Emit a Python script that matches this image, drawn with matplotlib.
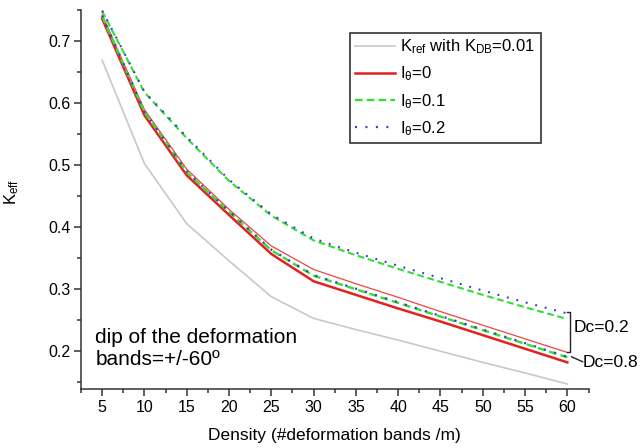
import matplotlib
matplotlib.use("Agg")
import matplotlib.pyplot as plt
from matplotlib.ticker import MultipleLocator

plt.rcParams['font.family'] = ['Liberation Sans', 'DejaVu Sans']
plt.rcParams['mathtext.default'] = 'regular'

density = [5, 10, 15, 20, 25, 30, 35, 40, 45, 50, 55, 60]
k_ref = [0.669, 0.502, 0.405, 0.345, 0.287, 0.252, 0.234, 0.217, 0.199, 0.181, 0.164, 0.146]
# Dc = 0.8 group
red_dc08 = [0.736, 0.580, 0.483, 0.419, 0.356, 0.312, 0.290, 0.268, 0.247, 0.225, 0.203, 0.181]
green_dc08 = [0.740, 0.585, 0.488, 0.424, 0.362, 0.321, 0.299, 0.277, 0.255, 0.233, 0.211, 0.189]
blue_dc08 = [0.741, 0.586, 0.489, 0.425, 0.363, 0.322, 0.300, 0.278, 0.256, 0.234, 0.212, 0.190]
# Dc = 0.2 group
red_dc02 = [0.742, 0.589, 0.493, 0.428, 0.369, 0.331, 0.308, 0.286, 0.263, 0.241, 0.219, 0.197]
green_dc02 = [0.748, 0.617, 0.543, 0.474, 0.418, 0.378, 0.354, 0.332, 0.311, 0.290, 0.270, 0.251]
blue_dc02 = [0.749, 0.618, 0.545, 0.476, 0.420, 0.381, 0.358, 0.337, 0.317, 0.297, 0.278, 0.260]

xticks = [5, 10, 15, 20, 25, 30, 35, 40, 45, 50, 55, 60]
yticks = [0.2, 0.3, 0.4, 0.5, 0.6, 0.7]

fig = plt.figure(figsize=(6.4, 4.48), dpi=100)
ax = fig.add_axes([81/640, 1-389/448, (588.5-81)/640, (389-10)/448])

gray = '#c8c8c8'
red = '#e3211f'
green = '#33dd33'
blue = '#3a3ad0'

ax.plot(density, k_ref, color=gray, lw=1.2, label=r'K$_{ref}$ with K$_{DB}$=0.01')
ax.plot(density, red_dc02, color='#ee4444', lw=0.9)
ax.plot(density, red_dc08, color=red, lw=1.8, label=r'I$_\theta$=0')
ax.plot(density, green_dc02, color=green, lw=1.5, dashes=(3.2, 1.8))
ax.plot(density, green_dc08, color=green, lw=1.7, dashes=(3.2, 1.8), label=r'I$_\theta$=0.1')
ax.plot(density, blue_dc02, color=blue, lw=1.5, dashes=(0.9, 3.8))
ax.plot(density, blue_dc08, color=blue, lw=1.6, dashes=(0.9, 3.8), label=r'I$_\theta$=0.2')

ax.set_xlim(2.5, 62.5)
ax.set_ylim(0.138, 0.75)
ax.set_xticks(xticks)
ax.set_yticks(yticks)
ax.xaxis.set_minor_locator(MultipleLocator(2.5))
ax.yaxis.set_minor_locator(MultipleLocator(0.05))
ax.set_yticklabels([f'{v:.1f}' for v in yticks])

for s in ['top', 'right']:
    ax.spines[s].set_visible(False)
for s in ['left', 'bottom']:
    ax.spines[s].set_linewidth(1.1)
    ax.spines[s].set_color('#333333')
ax.tick_params(which='major', length=5, width=1.1, color='#333333', labelsize=11.5, pad=2.7)
ax.tick_params(which='minor', length=3, width=1.1, color='#333333')

ax.set_xlabel('Density (#deformation bands /m)', fontsize=12.5)
ax.xaxis.set_label_coords(0.5, -0.103)
ax.set_ylabel(r'K$_{eff}$', fontsize=12)
ax.yaxis.set_label_coords(-0.118, 0.521)

leg = ax.legend(loc='upper left', bbox_to_anchor=(0.531, 0.94), borderaxespad=0,
                fontsize=12, handlelength=2.4, labelspacing=0.5, fancybox=False,
                edgecolor='#333333', framealpha=1, borderpad=0.3, handletextpad=0.3)
leg.get_frame().set_linewidth(1.2)

ax.text(4.2, 0.2035, 'dip of the deformation\nbands=+/-60º', fontsize=15,
        va='center', ha='left', linespacing=1.2)

# Dc bracket annotations
ax.plot([60.0, 60.3, 60.3, 60.0], [0.262, 0.262, 0.197, 0.197], color='#222222', lw=1.0, clip_on=False)
ax.text(60.8, 0.237, 'Dc=0.2', fontsize=12.5, va='center', ha='left')
ax.plot([60.5, 61.8], [0.190, 0.182], color='#222222', lw=1.0, clip_on=False)
ax.text(61.85, 0.181, 'Dc=0.8', fontsize=12.5, va='center', ha='left', clip_on=False)

fig.savefig('out.png', dpi=100)
